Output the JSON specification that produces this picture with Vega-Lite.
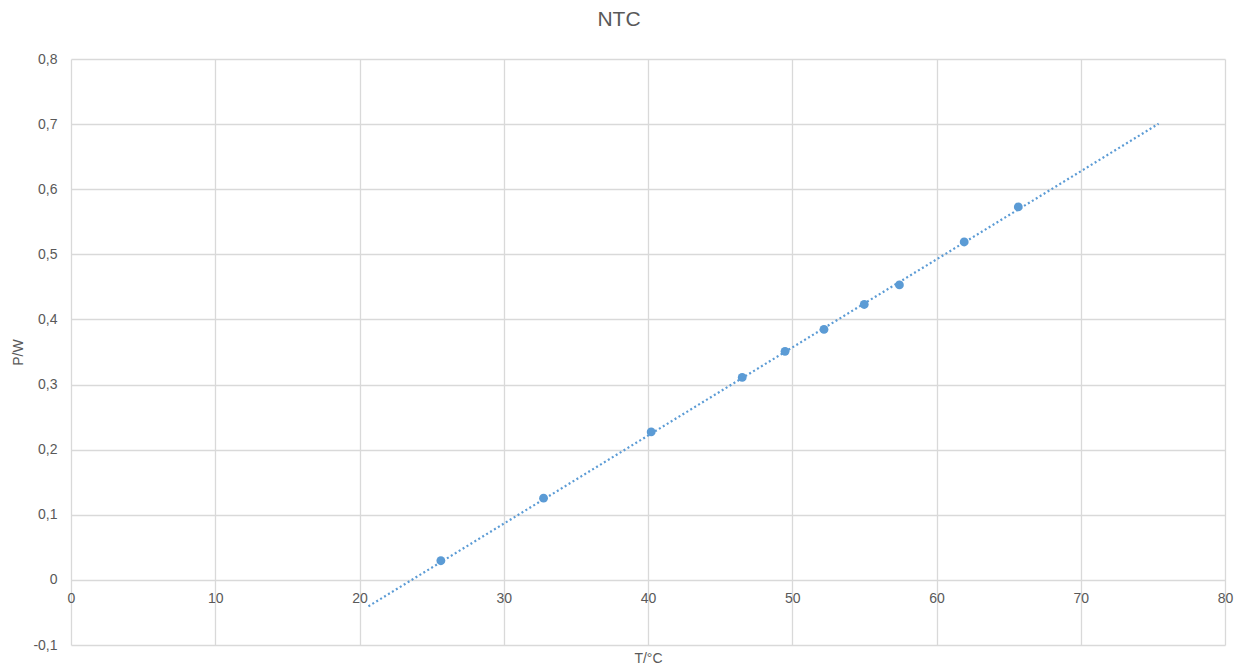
{
  "$schema": "https://vega.github.io/schema/vega-lite/v6.json",
  "width": 1154,
  "height": 586,
  "autosize": {"type": "none"},
  "padding": {"left": 71, "top": 59, "right": 20, "bottom": 23},
  "background": "white",
  "title": {"text": "NTC", "fontSize": 21, "font": "Liberation Sans", "fontWeight": "normal", "color": "#595959", "anchor": "middle", "dx": -29, "offset": 22},
  "datasets": {
    "points": [
      {"T": 25.64, "P": 0.0294},
      {"T": 32.76, "P": 0.1255},
      {"T": 40.22, "P": 0.2273},
      {"T": 46.53, "P": 0.311},
      {"T": 49.50, "P": 0.351},
      {"T": 52.20, "P": 0.3847},
      {"T": 54.99, "P": 0.423},
      {"T": 57.43, "P": 0.453},
      {"T": 61.92, "P": 0.519},
      {"T": 65.67, "P": 0.5728}
    ],
    "trend": [
      {"T": 20.62, "P": -0.0406},
      {"T": 75.40, "P": 0.7006}
    ]
  },
  "layer": [
    {
      "data": {"name": "trend"},
      "mark": {"type": "line", "color": "#5b9bd5", "strokeWidth": 2.2, "strokeDash": [2, 2.6], "strokeCap": "butt"},
      "encoding": {
        "x": {"field": "T", "type": "quantitative", "scale": {"domain": [0, 80], "nice": false, "zero": false},
          "axis": {"title": "T/°C", "values": [0,10,20,30,40,50,60,70,80], "offset": -65.5, "domain": false, "ticks": false, "labelPadding": 12, "labelFlush": false, "titleY": 78.5, "titleBaseline": "middle"}},
        "y": {"field": "P", "type": "quantitative", "scale": {"domain": [-0.1, 0.8], "nice": false, "zero": false},
          "axis": {"title": "P/W", "values": [-0.1,0,0.1,0.2,0.3,0.4,0.5,0.6,0.7,0.8], "domain": false, "ticks": false, "labelPadding": 14, "labelFlush": false, "titleX": -53, "titleBaseline": "middle",
            "labelExpr": "datum.value == 0 ? '0' : (datum.value < 0 ? '-' : '') + replace(format(abs(datum.value), '.1f'), '.', ',')"}}
      }
    },
    {
      "data": {"name": "points"},
      "mark": {"type": "point", "filled": true, "color": "#5b9bd5", "size": 78, "opacity": 1},
      "encoding": {
        "x": {"field": "T", "type": "quantitative"},
        "y": {"field": "P", "type": "quantitative"}
      }
    }
  ],
  "config": {
    "view": {"stroke": null},
    "axis": {
      "labelFont": "Liberation Sans", "labelFontSize": 14, "labelColor": "#595959",
      "titleFont": "Liberation Sans", "titleFontSize": 14, "titleColor": "#595959", "titleFontWeight": "normal",
      "gridColor": "#d9d9d9", "gridWidth": 1.3, "gridOpacity": 1
    }
  }
}
